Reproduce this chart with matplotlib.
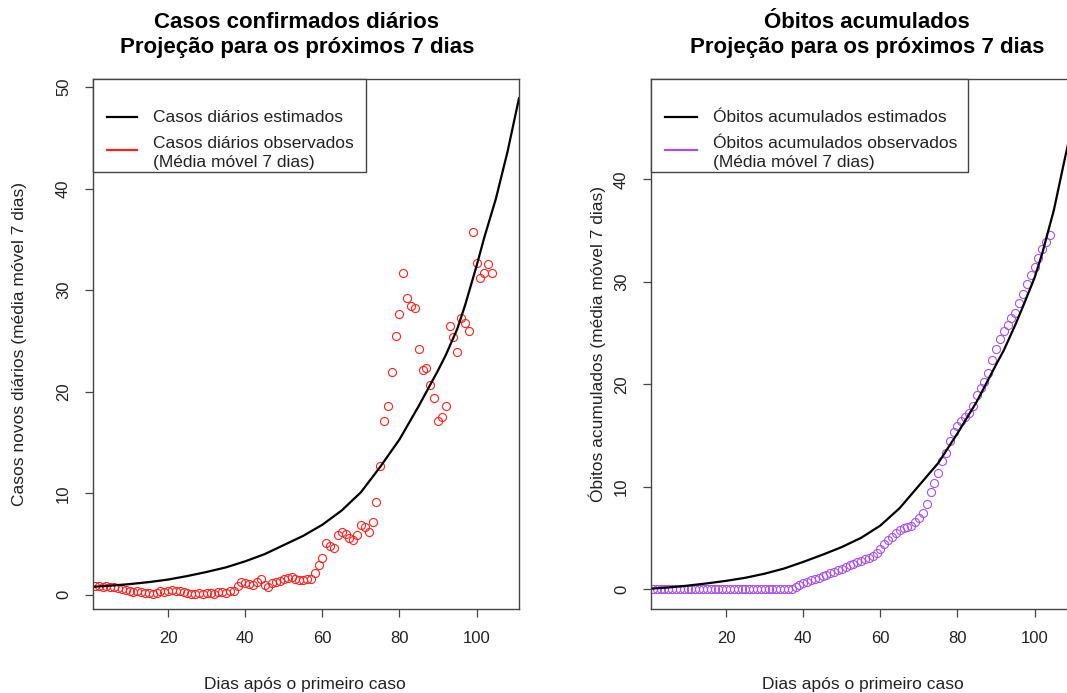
import numpy as np
import matplotlib.pyplot as plt
from matplotlib.lines import Line2D
from matplotlib.patches import Rectangle

plt.rcParams['font.family'] = ['Liberation Sans', 'DejaVu Sans']

# dias observados (1 a 104)
dias = np.arange(1, 105)

# casos novos diarios, media movel 7 dias
casos_obs = [
    0.85, 0.86, 0.80, 0.82, 0.78, 0.75, 0.70, 0.55, 0.45, 0.35,
    0.30, 0.40, 0.25, 0.20, 0.15, 0.10, 0.20, 0.35, 0.30, 0.40,
    0.45, 0.35, 0.40, 0.30, 0.20, 0.05, 0.10, 0.15, 0.10, 0.15,
    0.20, 0.10, 0.25, 0.30, 0.20, 0.35, 0.40, 0.85, 1.30, 1.15,
    1.10, 0.95, 1.30, 1.55, 1.00, 0.80, 1.15, 1.30, 1.35, 1.55,
    1.70, 1.75, 1.60, 1.50, 1.45, 1.60, 1.55, 2.10, 2.90, 3.60,
    5.10, 4.80, 4.60, 5.90, 6.20, 6.00, 5.60, 5.40, 5.90, 6.90,
    6.70, 6.20, 7.20, 9.10, 12.7, 17.1, 18.6, 21.9, 25.5, 27.7,
    31.7, 29.2, 28.4, 28.2, 24.2, 22.1, 22.3, 20.7, 19.4, 17.1,
    17.5, 18.6, 26.5, 25.4, 23.9, 27.3, 26.8, 26.0, 35.7, 32.7,
    31.2, 31.7, 32.6, 31.7,
]

# obitos acumulados, media movel 7 dias
obitos_obs = [
    0.0, 0.0, 0.0, 0.0, 0.0, 0.0, 0.0, 0.0, 0.0, 0.0,
    0.0, 0.0, 0.0, 0.0, 0.0, 0.0, 0.0, 0.0, 0.0, 0.0,
    0.0, 0.0, 0.0, 0.0, 0.0, 0.0, 0.0, 0.0, 0.0, 0.0,
    0.0, 0.0, 0.0, 0.0, 0.0, 0.0, 0.05, 0.15, 0.35, 0.55,
    0.70, 0.85, 1.00, 1.10, 1.25, 1.40, 1.55, 1.70, 1.85, 2.00,
    2.15, 2.30, 2.45, 2.60, 2.75, 2.90, 3.05, 3.25, 3.55, 3.95,
    4.35, 4.75, 5.10, 5.50, 5.80, 6.00, 6.10, 6.20, 6.50, 6.90,
    7.40, 8.30, 9.50, 10.4, 11.3, 12.5, 13.3, 14.5, 15.3, 15.9,
    16.4, 16.8, 17.2, 17.9, 18.9, 19.6, 20.2, 21.1, 22.4, 23.4,
    24.4, 25.2, 25.8, 26.5, 27.0, 27.9, 28.8, 29.8, 30.7, 31.4,
    32.3, 33.2, 33.9, 34.6,
]

# curvas estimadas (com projecao ate o dia 111)
dias_est = [1, 5, 10, 15, 20, 25, 30, 35, 40, 45, 50, 55, 60, 65,
            70, 75, 80, 85, 90, 92, 95, 97, 100, 102, 105, 108, 111]
casos_est = [0.80, 0.90, 1.05, 1.25, 1.50, 1.85, 2.25, 2.70, 3.30, 4.00, 4.90, 5.80, 6.90, 8.30,
             10.1, 12.6, 15.3, 18.6, 22.1, 23.6, 26.2, 28.5, 32.4, 35.2, 39.0, 43.6, 48.9]
obitos_est = [0.05, 0.15, 0.33, 0.55, 0.80, 1.10, 1.50, 2.00, 2.65, 3.35, 4.10, 5.00, 6.20, 7.90,
              10.1, 12.3, 15.2, 18.3, 21.9, 23.3, 25.8, 27.6, 30.4, 32.8, 37.0, 42.3, 47.3]

W, H = 1067, 693
fig = plt.figure(figsize=(W / 100, H / 100), dpi=100)


def fx(px):
    return px / W


def fy(py):
    return 1 - py / H


txt = '#222222'
box = '#444444'
fs = 12.5


def painel(x0, x1, y_obs, y_est, cor, ylim, yticks):
    ax = fig.add_axes([fx(x0), fy(609), fx(x1) - fx(x0), fy(79) - fy(609)])
    ax.plot(dias_est, y_est, color='black', lw=1.6, zorder=3)
    ax.plot(dias, y_obs, linestyle='none', marker='o', markersize=5.8,
            markerfacecolor='none', markeredgecolor=cor, markeredgewidth=0.8, zorder=2)
    ax.set_xlim(0.5, 111)
    ax.set_ylim(*ylim)
    ax.set_xticks([20, 40, 60, 80, 100])
    ax.set_yticks(yticks)
    ax.tick_params(direction='out', length=5.8, width=0.9, colors=box,
                   labelcolor=txt, labelsize=12, pad=10)
    for lab in ax.get_yticklabels():
        lab.set_rotation(90)
        lab.set_va('center')
    for s in ax.spines.values():
        s.set_color(box)
        s.set_linewidth(1.0)
    return ax


painel(93, 519, casos_obs, casos_est, '#ff2020', (-1.4, 50.8), [0, 10, 20, 30, 40, 50])
painel(651, 1077, obitos_obs, obitos_est, '#a64ff0', (-1.95, 49.8), [0, 10, 20, 30, 40])

# titulos
for cx, linha1 in [(297, 'Casos confirmados diários'), (867, 'Óbitos acumulados')]:
    fig.text(fx(cx), fy(22), linha1, ha='center', va='center',
             fontsize=16, fontweight='bold', color='black')
    fig.text(fx(cx), fy(48), 'Projeção para os próximos 7 dias', ha='center', va='center',
             fontsize=16, fontweight='bold', color='black')

# rotulos dos eixos
fig.text(fx(305), fy(684), 'Dias após o primeiro caso', ha='center', va='center',
         fontsize=fs, color=txt)
fig.text(fx(863), fy(684), 'Dias após o primeiro caso', ha='center', va='center',
         fontsize=fs, color=txt)
fig.text(fx(20), fy(344), 'Casos novos diários (média móvel 7 dias)', ha='center',
         va='center', rotation=90, fontsize=fs, color=txt)
fig.text(fx(597), fy(344), 'Óbitos acumulados (média móvel 7 dias)', ha='center',
         va='center', rotation=90, fontsize=fs, color=txt)


# legendas
def legenda(x0, x1, kx0, kx1, tx, rotulo1, rotulo2, cor):
    fig.add_artist(Rectangle((fx(x0), fy(172)), fx(x1) - fx(x0), fy(79) - fy(172),
                             transform=fig.transFigure, facecolor='white',
                             edgecolor=box, lw=1.0, zorder=5))
    fig.add_artist(Line2D([fx(kx0), fx(kx1)], [fy(117), fy(117)], color='black',
                          lw=1.6, transform=fig.transFigure, zorder=6))
    fig.add_artist(Line2D([fx(kx0), fx(kx1)], [fy(150), fy(150)], color=cor,
                          lw=1.6, transform=fig.transFigure, zorder=6))
    fig.text(fx(tx), fy(117), rotulo1, ha='left', va='center', fontsize=fs,
             color=txt, zorder=7)
    fig.text(fx(tx), fy(143), rotulo2, ha='left', va='center', fontsize=fs,
             color=txt, zorder=7)
    fig.text(fx(tx), fy(162), '(Média móvel 7 dias)', ha='left', va='center',
             fontsize=fs, color=txt, zorder=7)


legenda(93, 366, 107, 137, 153, 'Casos diários estimados',
        'Casos diários observados', '#ff2020')
legenda(651, 968, 665, 697, 713, 'Óbitos acumulados estimados',
        'Óbitos acumulados observados', '#a64ff0')

fig.savefig('out.png', dpi=100)
